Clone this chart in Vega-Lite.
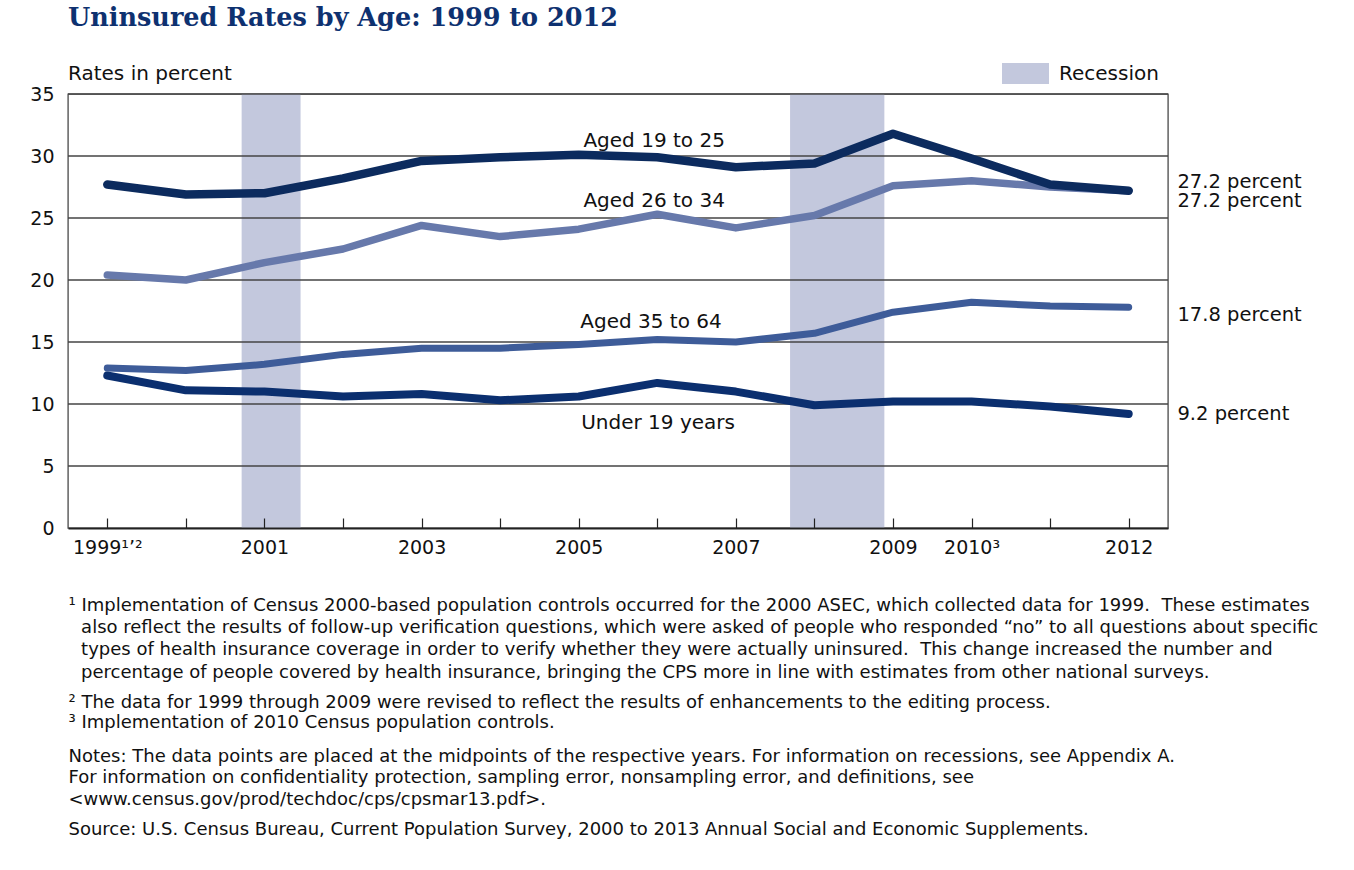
{
  "$schema": "https://vega.github.io/schema/vega-lite/v6.json",
  "width": 1100,
  "height": 434,
  "autosize": "none",
  "padding": {"left": 68, "top": 94, "right": 186, "bottom": 342},
  "background": "white",
  "config": {
    "font": "DejaVu Sans",
    "view": {"stroke": "#555", "strokeWidth": 1.4}
  },
  "title": {
    "text": "Uninsured Rates by Age: 1999 to 2012",
    "subtitle": "Rates in percent",
    "orient": "top",
    "anchor": "start",
    "frame": "group",
    "align": "left",
    "font": "DejaVu Serif",
    "fontSize": 25.5,
    "fontWeight": "bold",
    "color": "#0e3170",
    "subtitleFont": "DejaVu Sans",
    "subtitleFontSize": 20,
    "subtitleColor": "#111111",
    "subtitlePadding": 33,
    "offset": -34
  },
  "datasets": {
    "recessions": [
      {"name": "Recession", "start": 2000.71, "end": 2001.46},
      {"name": "Recession", "start": 2007.69, "end": 2008.89}
    ],
    "grid": [{"v": 5}, {"v": 10}, {"v": 15}, {"v": 20}, {"v": 25}, {"v": 30}, {"v": 35}],
    "rates": [
      {"series": "Aged 19 to 25", "year": 1999, "rate": 27.7},
      {"series": "Aged 19 to 25", "year": 2000, "rate": 26.9},
      {"series": "Aged 19 to 25", "year": 2001, "rate": 27.0},
      {"series": "Aged 19 to 25", "year": 2002, "rate": 28.2},
      {"series": "Aged 19 to 25", "year": 2003, "rate": 29.6},
      {"series": "Aged 19 to 25", "year": 2004, "rate": 29.9},
      {"series": "Aged 19 to 25", "year": 2005, "rate": 30.1},
      {"series": "Aged 19 to 25", "year": 2006, "rate": 29.9},
      {"series": "Aged 19 to 25", "year": 2007, "rate": 29.1},
      {"series": "Aged 19 to 25", "year": 2008, "rate": 29.4},
      {"series": "Aged 19 to 25", "year": 2009, "rate": 31.8},
      {"series": "Aged 19 to 25", "year": 2010, "rate": 29.8},
      {"series": "Aged 19 to 25", "year": 2011, "rate": 27.7},
      {"series": "Aged 19 to 25", "year": 2012, "rate": 27.2},
      {"series": "Aged 26 to 34", "year": 1999, "rate": 20.4},
      {"series": "Aged 26 to 34", "year": 2000, "rate": 20.0},
      {"series": "Aged 26 to 34", "year": 2001, "rate": 21.4},
      {"series": "Aged 26 to 34", "year": 2002, "rate": 22.5},
      {"series": "Aged 26 to 34", "year": 2003, "rate": 24.4},
      {"series": "Aged 26 to 34", "year": 2004, "rate": 23.5},
      {"series": "Aged 26 to 34", "year": 2005, "rate": 24.1},
      {"series": "Aged 26 to 34", "year": 2006, "rate": 25.3},
      {"series": "Aged 26 to 34", "year": 2007, "rate": 24.2},
      {"series": "Aged 26 to 34", "year": 2008, "rate": 25.2},
      {"series": "Aged 26 to 34", "year": 2009, "rate": 27.6},
      {"series": "Aged 26 to 34", "year": 2010, "rate": 28.0},
      {"series": "Aged 26 to 34", "year": 2011, "rate": 27.5},
      {"series": "Aged 26 to 34", "year": 2012, "rate": 27.2},
      {"series": "Aged 35 to 64", "year": 1999, "rate": 12.9},
      {"series": "Aged 35 to 64", "year": 2000, "rate": 12.7},
      {"series": "Aged 35 to 64", "year": 2001, "rate": 13.2},
      {"series": "Aged 35 to 64", "year": 2002, "rate": 14.0},
      {"series": "Aged 35 to 64", "year": 2003, "rate": 14.5},
      {"series": "Aged 35 to 64", "year": 2004, "rate": 14.5},
      {"series": "Aged 35 to 64", "year": 2005, "rate": 14.8},
      {"series": "Aged 35 to 64", "year": 2006, "rate": 15.2},
      {"series": "Aged 35 to 64", "year": 2007, "rate": 15.0},
      {"series": "Aged 35 to 64", "year": 2008, "rate": 15.7},
      {"series": "Aged 35 to 64", "year": 2009, "rate": 17.4},
      {"series": "Aged 35 to 64", "year": 2010, "rate": 18.2},
      {"series": "Aged 35 to 64", "year": 2011, "rate": 17.9},
      {"series": "Aged 35 to 64", "year": 2012, "rate": 17.8},
      {"series": "Under 19 years", "year": 1999, "rate": 12.3},
      {"series": "Under 19 years", "year": 2000, "rate": 11.1},
      {"series": "Under 19 years", "year": 2001, "rate": 11.0},
      {"series": "Under 19 years", "year": 2002, "rate": 10.6},
      {"series": "Under 19 years", "year": 2003, "rate": 10.8},
      {"series": "Under 19 years", "year": 2004, "rate": 10.3},
      {"series": "Under 19 years", "year": 2005, "rate": 10.6},
      {"series": "Under 19 years", "year": 2006, "rate": 11.7},
      {"series": "Under 19 years", "year": 2007, "rate": 11.0},
      {"series": "Under 19 years", "year": 2008, "rate": 9.9},
      {"series": "Under 19 years", "year": 2009, "rate": 10.2},
      {"series": "Under 19 years", "year": 2010, "rate": 10.2},
      {"series": "Under 19 years", "year": 2011, "rate": 9.8},
      {"series": "Under 19 years", "year": 2012, "rate": 9.2}
    ],
    "seriesLabels": [
      {"label": "Aged 19 to 25", "year": 2005.96, "rate": 30.75},
      {"label": "Aged 26 to 34", "year": 2005.96, "rate": 25.9},
      {"label": "Aged 35 to 64", "year": 2005.92, "rate": 16.1},
      {"label": "Under 19 years", "year": 2006.01, "rate": 7.96}
    ],
    "endLabels": [
      {"label": "27.2 percent", "year": 2012.62, "rate": 27.42},
      {"label": "27.2 percent", "year": 2012.62, "rate": 25.89},
      {"label": "17.8 percent", "year": 2012.62, "rate": 16.73},
      {"label": "9.2 percent", "year": 2012.62, "rate": 8.67}
    ]
  },
  "resolve": {
    "scale": {"x": "independent", "y": "independent"},
    "axis": {"x": "independent", "y": "independent"}
  },
  "layer": [
    {
      "data": {"name": "recessions"},
      "mark": {"type": "rect"},
      "encoding": {
        "x": {
          "field": "start",
          "type": "quantitative",
          "scale": {"domain": [1998.5, 2012.5], "nice": false, "zero": false},
          "axis": {
            "orient": "top",
            "labels": false,
            "ticks": false,
            "domain": false,
            "grid": false,
            "title": [
              "Notes: The data points are placed at the midpoints of the respective years. For information on recessions, see Appendix A.",
              "For information on confidentiality protection, sampling error, nonsampling error, and definitions, see",
              "<www.census.gov/prod/techdoc/cps/cpsmar13.pdf>."
            ],
            "titleFontSize": 18,
            "titleFontWeight": "normal",
            "titleColor": "#111111",
            "titleAlign": "left",
            "titleAnchor": "start",
            "titleBaseline": "alphabetic",
            "titleLineHeight": 21.5,
            "titleX": 0,
            "titleY": 667
          }
        },
        "x2": {"field": "end"},
        "fill": {
          "field": "name",
          "type": "nominal",
          "scale": {"range": ["#c3c8dd"]},
          "legend": {
            "orient": "none",
            "legendX": 934,
            "legendY": -44,
            "title": null,
            "symbolType": "M-1,-0.45H1V0.45H-1Z",
            "symbolSize": 2209,
            "symbolStrokeWidth": 0,
            "labelFontSize": 20,
            "labelColor": "#111111",
            "labelOffset": 10,
            "padding": 0
          }
        }
      }
    },
    {
      "data": {"name": "grid"},
      "mark": {"type": "rule", "color": "#444444", "strokeWidth": 1.3},
      "encoding": {
        "y": {
          "field": "v",
          "type": "quantitative",
          "scale": {"domain": [0, 35], "nice": false},
          "axis": {
            "orient": "right",
            "labels": false,
            "ticks": false,
            "domain": false,
            "grid": false,
            "title": [
              "² The data for 1999 through 2009 were revised to reflect the results of enhancements to the editing process.",
              "³ Implementation of 2010 Census population controls."
            ],
            "titleAngle": 0,
            "titleFontSize": 18,
            "titleFontWeight": "normal",
            "titleColor": "#111111",
            "titleAlign": "left",
            "titleBaseline": "alphabetic",
            "titleLineHeight": 20,
            "titleX": -1100,
            "titleY": 613
          }
        }
      }
    },
    {
      "data": {"name": "rates"},
      "encoding": {
        "x": {
          "field": "year",
          "type": "quantitative",
          "scale": {"domain": [1998.5, 2012.5], "nice": false, "zero": false},
          "axis": {
            "values": [1999, 2000, 2001, 2002, 2003, 2004, 2005, 2006, 2007, 2008, 2009, 2010, 2011, 2012],
            "labelExpr": "datum.value == 1999 ? '1999¹’²' : datum.value == 2010 ? '2010³' : indexof([2001, 2003, 2005, 2007, 2009, 2012], datum.value) >= 0 ? toString(datum.value) : ''",
            "tickSize": -10,
            "tickColor": "#222222",
            "tickWidth": 1.2,
            "domainColor": "#222222",
            "domainWidth": 1.8,
            "grid": false,
            "labelFontSize": 19,
            "labelColor": "#111111",
            "labelPadding": 20,
            "labelFlush": false,
            "labelOverlap": false,
            "zindex": 1,
            "title": [
              "¹ Implementation of Census 2000-based population controls occurred for the 2000 ASEC, which collected data for 1999.\u00a0 These estimates",
              "\u2060\u2002\u2009also reflect the results of follow-up verification questions, which were asked of people who responded “no” to all questions about specific",
              "\u2060\u2002\u2009types of health insurance coverage in order to verify whether they were actually uninsured.\u00a0 This change increased the number and",
              "\u2060\u2002\u2009percentage of people covered by health insurance, bringing the CPS more in line with estimates from other national surveys."
            ],
            "titleFontSize": 18,
            "titleFontWeight": "normal",
            "titleColor": "#111111",
            "titleAlign": "left",
            "titleAnchor": "start",
            "titleBaseline": "alphabetic",
            "titleLineHeight": 22.4,
            "titleX": 0,
            "titleY": 82
          }
        },
        "y": {
          "field": "rate",
          "type": "quantitative",
          "scale": {"domain": [0, 35], "nice": false},
          "axis": {
            "values": [0, 5, 10, 15, 20, 25, 30, 35],
            "ticks": false,
            "domain": false,
            "grid": false,
            "labelFontSize": 19,
            "labelColor": "#111111",
            "labelPadding": 14,
            "title": "Source: U.S. Census Bureau, Current Population Survey, 2000 to 2013 Annual Social and Economic Supplements.",
            "titleAngle": 0,
            "titleFontSize": 18,
            "titleFontWeight": "normal",
            "titleColor": "#111111",
            "titleAlign": "left",
            "titleBaseline": "alphabetic",
            "titleX": 0,
            "titleY": 740
          }
        }
      },
      "layer": [
        {
          "transform": [{"filter": "datum.series === 'Aged 26 to 34'"}],
          "mark": {"type": "line", "color": "#6779ab", "strokeWidth": 7.5, "strokeCap": "round", "strokeJoin": "round"}
        },
        {
          "transform": [{"filter": "datum.series === 'Aged 35 to 64'"}],
          "mark": {"type": "line", "color": "#3e5c99", "strokeWidth": 7, "strokeCap": "round", "strokeJoin": "round"}
        },
        {
          "transform": [{"filter": "datum.series === 'Under 19 years'"}],
          "mark": {"type": "line", "color": "#0b2f6f", "strokeWidth": 8, "strokeCap": "round", "strokeJoin": "round"}
        },
        {
          "transform": [{"filter": "datum.series === 'Aged 19 to 25'"}],
          "mark": {"type": "line", "color": "#0c2b5e", "strokeWidth": 8.5, "strokeCap": "round", "strokeJoin": "round"}
        },
        {
          "data": {"name": "seriesLabels"},
          "mark": {"type": "text", "fontSize": 20, "color": "#111111", "align": "center", "baseline": "alphabetic"},
          "encoding": {"text": {"field": "label"}}
        },
        {
          "data": {"name": "endLabels"},
          "mark": {"type": "text", "fontSize": 19.5, "color": "#111111", "align": "left", "baseline": "alphabetic"},
          "encoding": {"text": {"field": "label"}}
        }
      ]
    }
  ]
}
